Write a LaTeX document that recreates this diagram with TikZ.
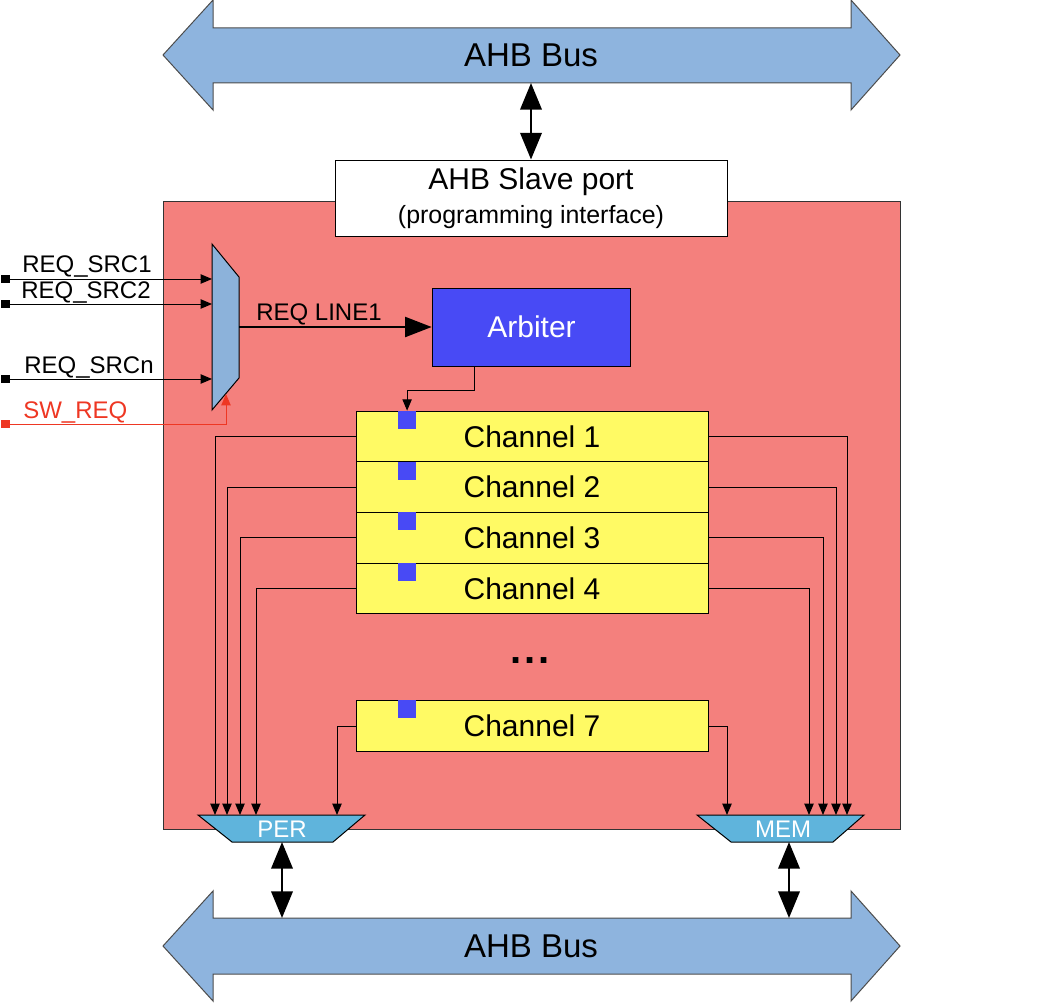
\documentclass[tikz,border=0pt]{standalone}
\usepackage{fontspec}
\setmainfont{Liberation Sans}
\usetikzlibrary{arrows.meta}
\usetikzlibrary{calc}
\definecolor{dmared}{RGB}{244,128,125}
\definecolor{busblue}{RGB}{142,180,222}
\definecolor{muxblue}{RGB}{140,178,218}
\definecolor{portblue}{RGB}{95,180,220}
\definecolor{chanyellow}{RGB}{255,250,100}
\definecolor{arbblue}{RGB}{72,74,245}
\definecolor{swred}{RGB}{238,55,35}
\tikzset{
  box/.style={draw, line width=0.75pt, inner sep=0pt},
  chan/.style={box, fill=chanyellow, minimum width=264pt, minimum height=38pt, font=\fontsize{22.5}{26}\selectfont},
  tag/.style={fill=arbblue, minimum width=14pt, minimum height=13.5pt, inner sep=0pt, anchor=north west},
  sig/.style={line width=0.75pt, -{Triangle[length=8.5pt,width=7pt]}},
  lbl/.style={font=\fontsize{18}{20}\selectfont, inner sep=0pt},
  pin/.style={fill=black, minimum size=6.5pt, inner sep=0pt},
  busarrow/.style={line width=2pt, {Triangle[length=20pt,width=16pt]}-{Triangle[length=20pt,width=16pt]}},
  busshape/.style={fill=busblue, draw=black!70, line width=0.75pt},
}
\begin{document}
\begin{tikzpicture}[x=0.75pt,y=-0.75pt]
\useasboundingbox (0,0) rectangle (1062,1002);
% the two buses
\filldraw[busshape] (163,55) -- (213,0) -- (213,28) -- (851,28) -- (851,0) -- (900,55)
  -- (851,110) -- (851,83) -- (213,83) -- (213,110) -- cycle;
\node[font=\fontsize{24.75}{28}\selectfont] (bustop) at (531,55) {AHB Bus};
\filldraw[busshape] (163,946) -- (213,891) -- (213,918) -- (851,918) -- (851,891) -- (900,946)
  -- (851,1001) -- (851,974) -- (213,974) -- (213,1001) -- cycle;
\node[font=\fontsize{24.75}{28}\selectfont] (busbot) at (531,946) {AHB Bus};
% the DMA block
\filldraw[fill=dmared, draw=black!80, line width=0.75pt] (163,201) rectangle (900,829);
\node[box, fill=white, minimum width=294pt, minimum height=57pt, align=center,
  font=\fontsize{22.5}{25.5}\selectfont] (slave) at (531,198)
  {AHB Slave port\\{\fontsize{18.7}{25.5}\selectfont(programming interface)}};
\coordinate (topbus) at (531,83);
\draw[busarrow] (topbus) -- (slave.north);
% request mux
\filldraw[fill=muxblue, line width=0.75pt] (212,244) -- (239,277) -- (239,378) -- (212,410) -- cycle;
\coordinate (mux1) at (212,279);
\coordinate (mux2) at (212,304);
\coordinate (muxn) at (212,379);
\coordinate (muxsw) at (226,394);
\coordinate (muxout) at (239,327);
\node[pin] (src1) at (5.5,279) {};
\node[pin] (src2) at (5.5,304) {};
\node[pin] (srcn) at (5.5,379) {};
\node[pin, fill=swred] (swreq) at (5.5,424) {};
\draw[sig] (src1.east) -- (mux1);
\draw[sig] (src2.east) -- (mux2);
\draw[sig] (srcn.east) -- (muxn);
\draw[sig, swred] (swreq.east) -| (muxsw);
\node[lbl, anchor=base west] (l1) at (22,272) {REQ\_SRC1};
\node[lbl, anchor=base west] (l2) at (21,298) {REQ\_SRC2};
\node[lbl, anchor=base west] (ln) at (24,373) {REQ\_SRCn};
\node[lbl, anchor=base west, text=swred] (lsw) at (23,418) {SW\_REQ};
% arbiter
\node[box, fill=arbblue, text=white, minimum width=149pt, minimum height=58.5pt,
  font=\fontsize{22.5}{26}\selectfont] (arb) at (531.5,327) {Arbiter};
\draw[line width=1.8pt, -{Triangle[length=20pt,width=15pt]}] (muxout) -- (arb.west);
\node[lbl, anchor=base west] (reqlbl) at (256,320) {REQ LINE1};
% channels
\foreach \i in {1,...,4}
  \node[chan] (ch\i) at (532,{436.5+50.7*(\i-1)}) {Channel \i};
\node[chan] (ch7) at (532,726) {Channel 7};
\foreach \i in {1,2,3,4,7}
  \node[tag] (tag\i) at ([xshift=31.5pt]ch\i.north west) {};
\node[font=\bfseries\fontsize{30}{32}\selectfont, anchor=base] (dots) at (530,663) {.\hspace{2pt}.\hspace{2pt}.};
\draw[sig] ([xshift=-42.75pt]arb.south) -- ++(0,24) -| (tag1.north);
% peripheral and memory ports
\filldraw[fill=portblue, line width=0.75pt] (198,815) -- (365,815) -- (333,842) -- (232,842) -- cycle;
\node[lbl, text=white] (per) at (282,829) {PER};
\filldraw[fill=portblue, line width=0.75pt] (697,815) -- (864,815) -- (833,842) -- (731,842) -- cycle;
\node[lbl, text=white] (mem) at (783,829) {MEM};
\foreach \n/\x in {1/215,2/227,3/240,4/256,7/337}
  \coordinate (per\n) at (\x,815);
\foreach \n/\x in {1/847,2/836,3/823,4/809,7/727}
  \coordinate (mem\n) at (\x,815);
\foreach \n in {1,2,3,4,7}{
  \draw[sig] (ch\n.west) -| (per\n);
  \draw[sig] (ch\n.east) -| (mem\n);
}
\coordinate (perout) at (282,842);
\coordinate (perbus) at (282,918);
\coordinate (memout) at (789,842);
\coordinate (membus) at (789,918);
\draw[busarrow] (perout) -- (perbus);
\draw[busarrow] (memout) -- (membus);
\end{tikzpicture}
\end{document}
